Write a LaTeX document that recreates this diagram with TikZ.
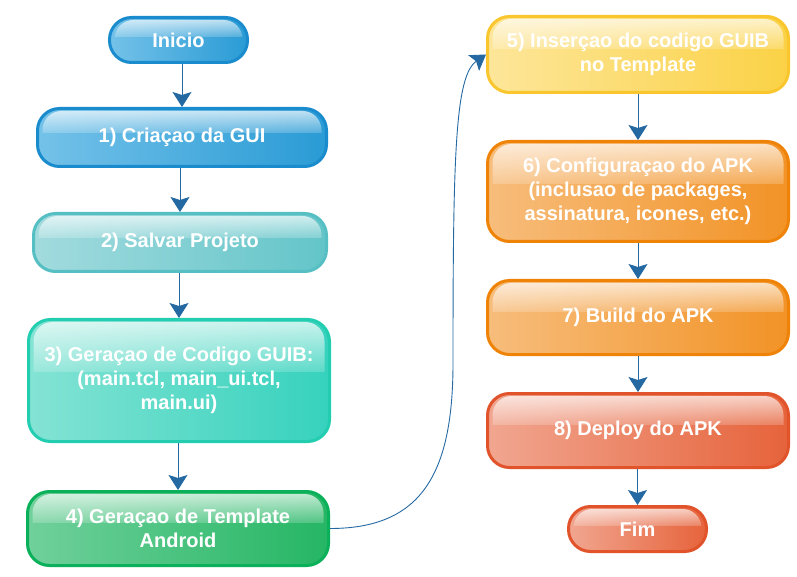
\documentclass[tikz,border=0pt]{standalone}
\usepackage{fontspec}
\setmainfont{Liberation Sans}
\usetikzlibrary{arrows.meta,fadings,calc}
\definecolor{blueB}{HTML}{1A8CCD}\definecolor{blueL}{HTML}{74C2E9}\definecolor{blueD}{HTML}{2A9BD5}
\definecolor{tealB}{HTML}{56BFC3}\definecolor{tealL}{HTML}{A2DBDE}\definecolor{tealD}{HTML}{63C5C9}
\definecolor{turqB}{HTML}{22CDB0}\definecolor{turqL}{HTML}{84E3D4}\definecolor{turqD}{HTML}{36D2BD}
\definecolor{greenB}{HTML}{0BB15A}\definecolor{greenL}{HTML}{70D09B}\definecolor{greenD}{HTML}{25B664}
\definecolor{yellowB}{HTML}{F9C62D}\definecolor{yellowL}{HTML}{FDE69A}\definecolor{yellowD}{HTML}{FBD246}
\definecolor{orangeB}{HTML}{EF8307}\definecolor{orangeL}{HTML}{F7BD7C}\definecolor{orangeD}{HTML}{F29326}
\definecolor{redB}{HTML}{E0532B}\definecolor{redL}{HTML}{F1A690}\definecolor{redD}{HTML}{E6633B}
\definecolor{arrowC}{HTML}{2569A2}
\tikzfading[name=glassfade, top color=transparent!25, bottom color=transparent!82]
\tikzset{
  glass/.style={rounded corners=22pt, line width=3pt, draw=#1B, left color=#1L, right color=#1D,
    text=white, font=\fontsize{20}{24}\selectfont\bfseries, align=center, inner sep=0pt,
    path picture={
      \begin{scope}
        \clip[rounded corners=19pt] ([shift={(5pt,-2.5pt)}]path picture bounding box.north west) rectangle ([shift={(-5pt,2pt)}]path picture bounding box.south east);
        \fill[sharp corners, white, path fading=glassfade] (path picture bounding box.north west) rectangle ($(path picture bounding box.north east)!0.43!(path picture bounding box.south east)$);
      \end{scope}
    }},
  flow/.style={draw=arrowC, line width=0.9pt, -{Stealth[length=15pt,width=19pt,inset=3pt,fill=arrowC]}}
}
\begin{document}
\begin{tikzpicture}[x=1pt,y=1pt]
\useasboundingbox (0,0) rectangle (797,576);
\node[glass=blue, minimum width=138pt, minimum height=45pt] (inicio) at (178.5,536) {Inicio};
\node[glass=blue, minimum width=289pt, minimum height=58pt] (n1) at (182,438.5) {1) Criaçao da GUI};
\node[glass=teal, minimum width=293pt, minimum height=58pt] (n2) at (180,333.5) {2) Salvar Projeto};
\node[glass=turq, minimum width=301pt, minimum height=122pt] (n3) at (179,195.5) {3) Geraçao de Codigo GUIB:\\(main.tcl, main\_ui.tcl,\\main.ui)};
\node[glass=green, minimum width=301pt, minimum height=74pt] (n4) at (178,47.5) {4) Geraçao de Template\\Android};
\node[glass=yellow, minimum width=301pt, minimum height=76pt] (n5) at (638,521.5) {5) Inserçao do codigo GUIB\\no Template};
\node[glass=orange, minimum width=301pt, minimum height=100pt] (n6) at (638,384.5) {6) Configuraçao do APK\\(inclusao de packages,\\assinatura, icones, etc.)};
\node[glass=orange, minimum width=301pt, minimum height=74pt] (n7) at (638,258.5) {7) Build do APK};
\node[glass=red, minimum width=301pt, minimum height=74pt] (n8) at (638,145.5) {8) Deploy do APK};
\node[glass=red, minimum width=138pt, minimum height=45pt] (fim) at (637.5,47) {Fim};
\draw[flow] (inicio.south -| n1.north) -- (n1.north);
\draw[flow] (n1.south -| n2.north) -- (n2.north);
\draw[flow] (n2.south -| n3.north) -- (n3.north);
\draw[flow] (n3.south -| n4.north) -- (n4.north);
\draw[flow] (n5.south -| n6.north) -- (n6.north);
\draw[flow] (n6.south -| n7.north) -- (n7.north);
\draw[flow] (n7.south -| n8.north) -- (n8.north);
\draw[flow] (n8.south -| fim.north) -- (fim.north);
\draw[flow] (n4.east) .. controls (420,47.5) and (453,100) .. (453,213) .. controls (453,420) and (455,500) .. (n5.west);
\end{tikzpicture}
\end{document}
